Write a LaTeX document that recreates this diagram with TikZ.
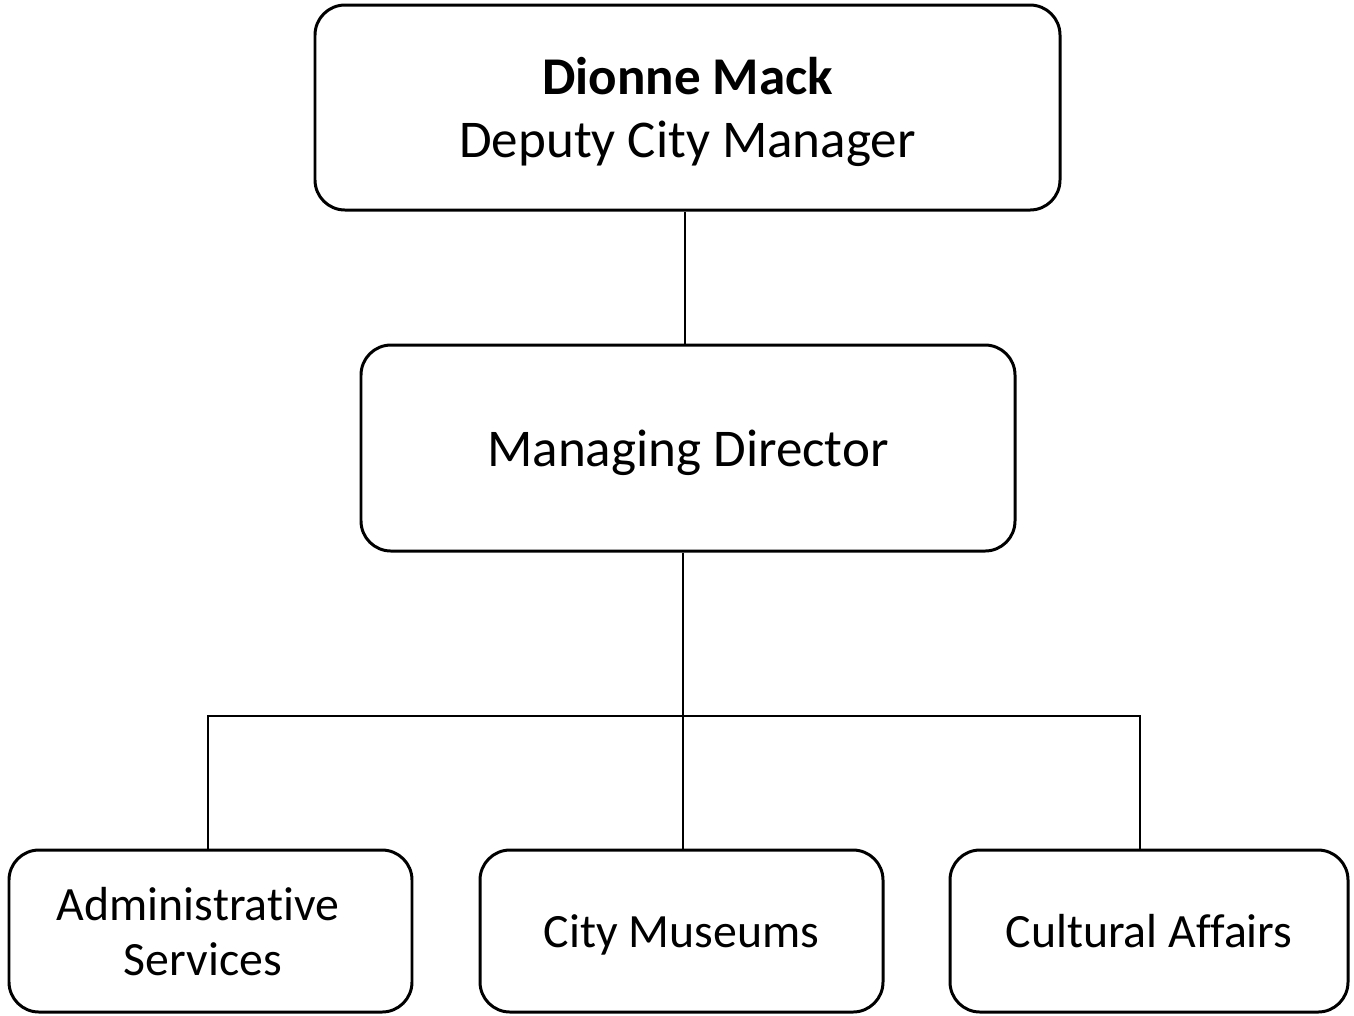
\documentclass[tikz,border=0pt]{standalone}
\usepackage{fontspec}
\setmainfont{Carlito}[Ligatures={NoCommon}]
\usepackage{tikz}

\begin{document}
\begin{tikzpicture}[font=\fontsize{15.1}{18}\selectfont,
  box/.style={draw, line width=0.85pt, rounded corners=0.3cm, align=center, text depth=0pt},
  unit/.style={box, minimum width=4.03cm, minimum height=1.62cm, font=\fontsize{13.6}{15.6}\selectfont},
  link/.style={line width=0.6pt}]
\useasboundingbox (0,0) rectangle (13.54,-10.15);
\node[box, minimum width=7.45cm, minimum height=2.05cm] (dcm) at (6.875,-1.075)
  {\textbf{Dionne Mack}\\Deputy City Manager};
\node[box, minimum width=6.54cm, minimum height=2.06cm] (md) at (6.88,-4.48) {Managing Director};
\node[unit] (adm) at (2.105,-9.31) {Administrative\hspace*{0.25cm}\\Services\hspace*{0.15cm}};
\node[unit] (mus) at (6.815,-9.31) {City Museums};
\node[unit, minimum width=3.98cm] (cult) at (11.49,-9.31) {Cultural Affairs};
\coordinate (bus) at (6.83,-7.16);
\coordinate (right) at (11.4,-8.5);
\draw[link] (dcm.south -| 6.85,0) -- (md.north -| 6.85,0);
\draw[link] (md.south -| bus) -- (bus);
\draw[link] (adm.north -| 2.08,0) |- (bus) -| (right |- cult.north);
\draw[link] (bus) -- (mus.north -| bus);
\end{tikzpicture}
\end{document}
